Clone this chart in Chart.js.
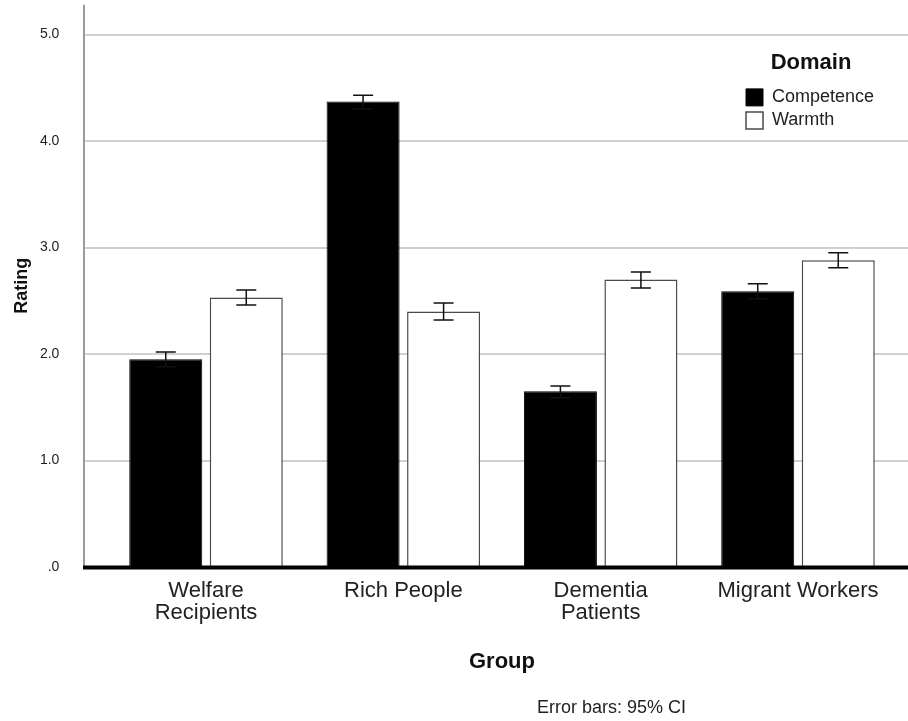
<!DOCTYPE html>
<html>
<head>
<meta charset="utf-8">
<script src="https://cdn.jsdelivr.net/npm/chart.js@4.4.1/dist/chart.umd.min.js"></script>
<style>
  html, body { margin: 0; padding: 0; background: #ffffff; }
  #wrap { width: 908px; height: 721px; }
</style>
</head>
<body>
<div id="wrap"><canvas id="chart" width="908" height="721"></canvas></div>
<script>
// Mean ratings per target group, with 95% confidence intervals
const GROUPS = [['Welfare', 'Recipients'], 'Rich People', ['Dementia', 'Patients'], 'Migrant Workers'];

const COMPETENCE = [1.95, 4.37, 1.65, 2.59];
const COMPETENCE_CI_LOW = [1.88, 4.30, 1.59, 2.52];
const COMPETENCE_CI_HIGH = [2.02, 4.43, 1.70, 2.66];

const WARMTH = [2.53, 2.40, 2.70, 2.88];
const WARMTH_CI_LOW = [2.46, 2.32, 2.62, 2.81];
const WARMTH_CI_HIGH = [2.60, 2.48, 2.77, 2.95];

const Y_TICKS = [0, 1, 2, 3, 4, 5];
const Y_TICK_LABELS = ['.0', '1.0', '2.0', '3.0', '4.0', '5.0'];

const FONT = "'Liberation Sans', Arial, Helvetica, sans-serif";
Chart.defaults.font.family = FONT;

const AXIS_X = 84;

// Frame: grid lines across the full panel, the vertical axis rule,
// the heavy baseline, error bars and the footnote.
const frame = {
  id: 'frame',
  afterLayout(chart) {
    // put the legend in the upper right of the panel
    const lg = chart.legend;
    if (lg) {
      lg.left = 741; lg.width = 140; lg.right = 881;
      lg.top = 52; lg.height = 200; lg.bottom = 252;
    }
  },
  beforeDatasetsDraw(chart) {
    const { ctx, chartArea } = chart;
    const ys = chart.scales.y;
    ctx.save();
    ctx.strokeStyle = '#d0d0d0';
    ctx.lineWidth = 2;
    ys.ticks.forEach(t => {
      if (t.value === 0) return;
      const py = Math.round(ys.getPixelForValue(t.value));
      ctx.beginPath();
      ctx.moveTo(AXIS_X, py);
      ctx.lineTo(chart.width, py);
      ctx.stroke();
    });
    ctx.strokeStyle = '#9a9a9a';
    ctx.lineWidth = 2;
    ctx.beginPath();
    ctx.moveTo(AXIS_X, chartArea.top);
    ctx.lineTo(AXIS_X, ys.getPixelForValue(0));
    ctx.stroke();
    ctx.restore();
  },
  afterDatasetsDraw(chart) {
    const { ctx } = chart;
    const ys = chart.scales.y;
    ctx.save();
    ctx.strokeStyle = '#111111';
    ctx.lineWidth = 1.5;
    chart.data.datasets.forEach((ds, di) => {
      const meta = chart.getDatasetMeta(di);
      meta.data.forEach((bar, i) => {
        const x = bar.x;
        const yHi = ys.getPixelForValue(ds.ciHigh[i]);
        const yLo = ys.getPixelForValue(ds.ciLow[i]);
        const cap = 10;
        ctx.beginPath();
        ctx.moveTo(x, yHi); ctx.lineTo(x, yLo);
        ctx.moveTo(x - cap, yHi); ctx.lineTo(x + cap, yHi);
        ctx.moveTo(x - cap, yLo); ctx.lineTo(x + cap, yLo);
        ctx.stroke();
      });
    });
    // heavy baseline at zero
    const y0 = ys.getPixelForValue(0);
    ctx.strokeStyle = '#000000';
    ctx.lineWidth = 4;
    ctx.beginPath();
    ctx.moveTo(AXIS_X - 1, y0 + 0.5);
    ctx.lineTo(chart.width, y0 + 0.5);
    ctx.stroke();
    ctx.restore();
  },
  afterDraw(chart) {
    const { ctx } = chart;
    ctx.save();
    ctx.font = '18px ' + FONT;
    ctx.fillStyle = '#222222';
    ctx.textAlign = 'right';
    ctx.textBaseline = 'middle';
    ctx.fillText('Error bars: 95% CI', 686, 708);
    ctx.restore();
  }
};

new Chart(document.getElementById('chart'), {
  type: 'bar',
  data: {
    labels: GROUPS,
    datasets: [
      {
        label: 'Competence',
        data: COMPETENCE,
        ciLow: COMPETENCE_CI_LOW,
        ciHigh: COMPETENCE_CI_HIGH,
        backgroundColor: '#000000',
        borderColor: '#000000',
        borderWidth: 1,
        categoryPercentage: 0.816,
        barPercentage: 0.907
      },
      {
        label: 'Warmth',
        data: WARMTH,
        ciLow: WARMTH_CI_LOW,
        ciHigh: WARMTH_CI_HIGH,
        backgroundColor: '#ffffff',
        borderColor: '#4a4a4a',
        borderWidth: 1.5,
        categoryPercentage: 0.816,
        barPercentage: 0.907
      }
    ]
  },
  options: {
    responsive: false,
    animation: false,
    devicePixelRatio: 1,
    layout: { padding: { top: 4.7, right: 11.35, bottom: 0, left: 0 } },
    scales: {
      x: {
        offset: true,
        grid: { display: false, drawTicks: false },
        border: { display: false },
        ticks: {
          padding: 13,
          color: '#222222',
          font: { size: 22, lineHeight: 1.0 },
          maxRotation: 0,
          autoSkip: false
        },
        title: {
          display: true,
          text: 'Group',
          color: '#111111',
          font: { size: 22, weight: 'bold' },
          padding: { top: 0, bottom: 46 }
        },
        afterFit(scale) { scale.height = 154; }
      },
      y: {
        min: 0,
        max: 5.28,
        grid: { display: false, drawTicks: false },
        border: { display: false },
        afterBuildTicks(scale) { scale.ticks = Y_TICKS.map(v => ({ value: v })); },
        ticks: {
          padding: 48,
          color: '#222222',
          font: { size: 14 },
          callback: (v) => Y_TICK_LABELS[Y_TICKS.indexOf(v)]
        },
        title: {
          display: true,
          text: 'Rating',
          color: '#111111',
          font: { size: 18, weight: 'bold' },
          padding: { top: 11, bottom: 0 }
        },
        afterFit(scale) {
          scale.width = 107.35;
          scale.paddingTop = 0;
          scale.paddingBottom = 0;
        }
      }
    },
    plugins: {
      legend: {
        position: 'chartArea',
        fullSize: false,
        align: 'start',
        title: {
          display: true,
          text: 'Domain',
          color: '#111111',
          font: { size: 22, weight: 'bold' },
          padding: { top: 0, bottom: 5 }
        },
        labels: {
          boxWidth: 17,
          boxHeight: 17,
          padding: 5,
          color: '#222222',
          font: { size: 18 }
        }
      },
      tooltip: { enabled: false }
    }
  },
  plugins: [frame]
});
</script>
</body>
</html>
